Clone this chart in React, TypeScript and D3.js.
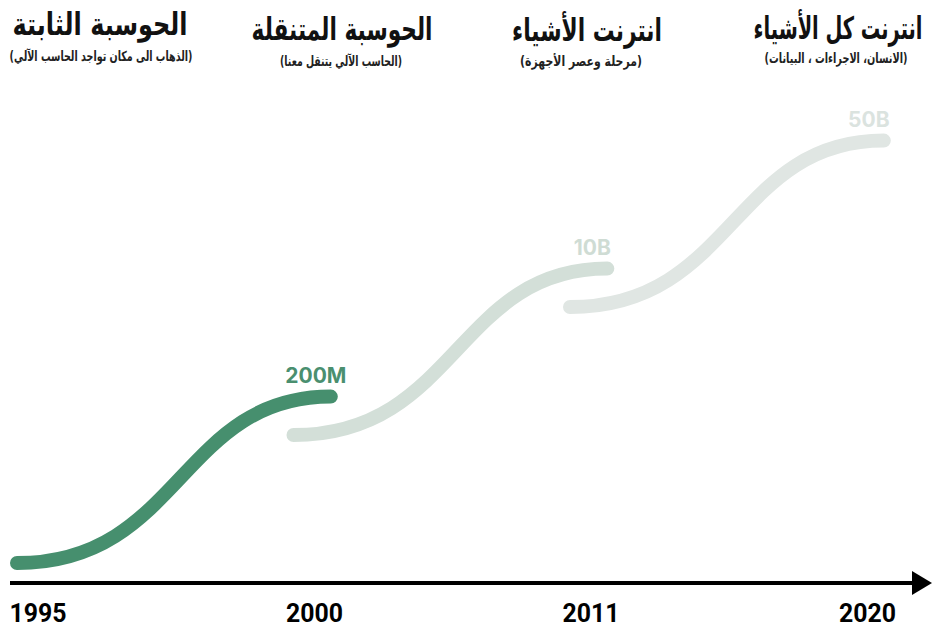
import React from "react";
import * as d3 from "d3";

// era titles / subtitles, left to right
const titles = ["الحوسبة الثابتة", "الحوسبة المتنقلة", "انترنت الأشياء", "انترنت كل الأشياء"];
const subtitles = [
    "(الذهاب الى مكان تواجد الحاسب الآلي)",
    "(الحاسب الآلي يتنقل معنا)",
    "(مرحلة وعصر الأجهزة)",
    "(الانسان، الاجراءات ، البيانات)",
];
const years = ["1995", "2000", "2011", "2020"];

// each wave: start/end stage on x, start/end level on y
const milestones = ["200M", "10B", "50B"];
const waveFrom = [0, 1, 2];
const waveTo = [1.135, 2.135, 3.135];
const levelFrom = [0, 1, 2];
const levelTo = [1.3, 2.3, 3.3];

const W = 936;
const H = 630;
const waveColors = ["#468f6e", "#d3dfd8", "#e0e6e3"];
const labelColors = ["#4a8f6f", "#cfdcd4", "#dbe3df"];

// title layout (center x, baseline y, width)
const titleX = [100, 342, 587, 838];
const titleY = [35, 40, 41, 39];
const titleW = [175, 181, 150, 169];
const subX = [101, 341, 581, 836];
const subY = [61, 66, 66, 63];
const subW = [183, 122, 122, 143];

const TITLE_FS = 31;
const SUB_FS = 14;

// Arabic label squeezed to a given width: smaller font, stretched back vertically
function FitText(props: { text: string; cx: number; by: number; w: number; fs: number; bold: boolean; fill: string }) {
    const ref = React.useRef<SVGTextElement>(null);
    const [natural, setNatural] = React.useState<number | null>(null);

    React.useLayoutEffect(() => {
        if (ref.current && natural === null) setNatural(ref.current.getComputedTextLength());
    }, [natural]);

    const k = natural ? props.w / natural : 1;
    return (
        <g transform={`translate(${props.cx},${props.by}) scale(1,${1 / k})`}>
            <text ref={ref} x={0} y={0} textAnchor="middle" fontFamily="DejaVu Sans"
                fontWeight={props.bold ? "bold" : "normal"} fontSize={props.fs * k} fill={props.fill}
                visibility={natural ? "visible" : "hidden"}>{props.text}</text>
        </g>
    );
}

export default function App() {
    const x = d3.scaleLinear().domain([0, 3]).range([17, 846.5]);
    const y = d3.scaleLinear().domain([0, 3]).range([563, 179]);

    const wavePath = (i: number): string => {
        const x0 = x(waveFrom[i]), x1 = x(waveTo[i]);
        const y0 = y(levelFrom[i]), y1 = y(levelTo[i]);
        const w = x1 - x0;
        const p = d3.path();
        p.moveTo(x0, y0);
        p.bezierCurveTo(x0 + w * 0.52, y0, x1 - w * 0.48, y1, x1, y1);
        return p.toString();
    };

    const axisY = 583;

    return (
        <svg width={W} height={H} style={{ position: "absolute", left: 0, top: 0, background: "#fff" }}>
            {titles.map((t, i) => (
                <FitText key={"t" + i} text={t} cx={titleX[i]} by={titleY[i]} w={titleW[i]}
                    fs={TITLE_FS} bold={true} fill="#111" />
            ))}
            {subtitles.map((t, i) => (
                <FitText key={"s" + i} text={t} cx={subX[i]} by={subY[i]} w={subW[i]}
                    fs={SUB_FS} bold={true} fill="#222" />
            ))}

            {milestones.map((m, i) => (
                <g key={"w" + i}>
                    <path d={wavePath(i)} fill="none" stroke={waveColors[i]} strokeWidth={14} strokeLinecap="round" />
                    <text x={x(waveTo[i]) - 15} y={y(levelTo[i]) - 14} textAnchor="middle"
                        fontFamily="Inter" fontWeight="bold" fontSize={21} fill={labelColors[i]}>{m}</text>
                </g>
            ))}

            <line x1={10} x2={914} y1={axisY} y2={axisY} stroke="#000" strokeWidth={4} />
            <path d={`M912,${axisY - 12}L932,${axisY}L912,${axisY + 12}Z`} fill="#000" />

            {years.map((yr, i) => (
                <text key={yr} x={x(i) + 21} y={622} textAnchor="middle"
                    fontFamily="Roboto" fontWeight="bold" fontSize={26} fill="#000"
                    textLength={57} lengthAdjust="spacingAndGlyphs">{yr}</text>
            ))}
        </svg>
    );
}
